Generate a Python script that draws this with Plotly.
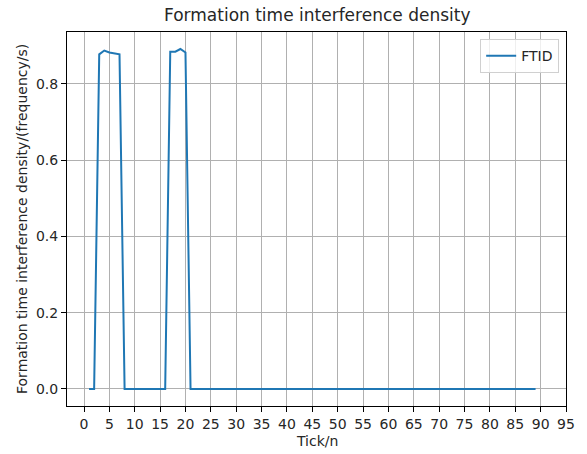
import plotly.graph_objects as go

ticks_n = list(range(1, 90))
peak1_x = [3, 4, 5, 6, 7]
peak1_y = [0.877, 0.887, 0.882, 0.879, 0.877]
peak2_x = [17, 18, 19, 20]
peak2_y = [0.884, 0.884, 0.891, 0.882]

ftid = []
lookup = dict(zip(peak1_x + peak2_x, peak1_y + peak2_y))
for t in ticks_n:
    ftid.append(lookup.get(t, 0.0))

x_ticks = list(range(0, 100, 5))
y_ticks = [0.0, 0.2, 0.4, 0.6, 0.8]

FONT = "DejaVu Sans"
W, H = 587, 454
L, R, T, B = 67, 18, 32, 48

fig = go.Figure()
fig.add_trace(go.Scatter(x=ticks_n, y=ftid, mode="lines", name="FTID",
                         line=dict(color="#1f77b4", width=2)))

axis_common = dict(
    showgrid=True, gridcolor="#b0b0b0", gridwidth=1,
    showline=True, linecolor="black", linewidth=1, mirror=True,
    ticks="outside", ticklen=5, tickwidth=1, tickcolor="black",
    zeroline=False,
    tickfont=dict(family=FONT, size=14, color="#262626"),
)

fig.update_layout(
    width=W, height=H,
    margin=dict(l=L, r=R, t=T, b=B),
    paper_bgcolor="white", plot_bgcolor="white",
    font=dict(family=FONT, color="#262626"),
    showlegend=True,
    legend=dict(x=0.828, y=0.981, xanchor="left", yanchor="top",
                bgcolor="rgba(255,255,255,0.8)", bordercolor="#d0d0d0",
                borderwidth=1, font=dict(family=FONT, size=14, color="#262626")),
    xaxis=dict(range=[-3.35, 95], tickvals=x_ticks,
               ticktext=[str(v) for v in x_ticks], **axis_common),
    yaxis=dict(range=[-0.0446, 0.9356], tickvals=y_ticks,
               ticktext=[f"{v:.1f}" for v in y_ticks], **axis_common),
    annotations=[
        dict(text="Formation time interference density", xref="paper", yref="paper",
             x=0.5, y=1, yshift=17, xanchor="center", yanchor="middle",
             showarrow=False, font=dict(family=FONT, size=17, color="#262626")),
        dict(text="Tick/n", xref="paper", yref="paper",
             x=0.5, y=0, yshift=-35, xanchor="center", yanchor="middle",
             showarrow=False, font=dict(family=FONT, size=14, color="#262626")),
        dict(text="Formation time interference density/(frequency/s)", xref="paper", yref="paper",
             x=0, y=0.5, xshift=-45, xanchor="center", yanchor="middle", textangle=-90,
             showarrow=False, font=dict(family=FONT, size=14, color="#262626")),
    ],
)

fig.write_html("out.html")
